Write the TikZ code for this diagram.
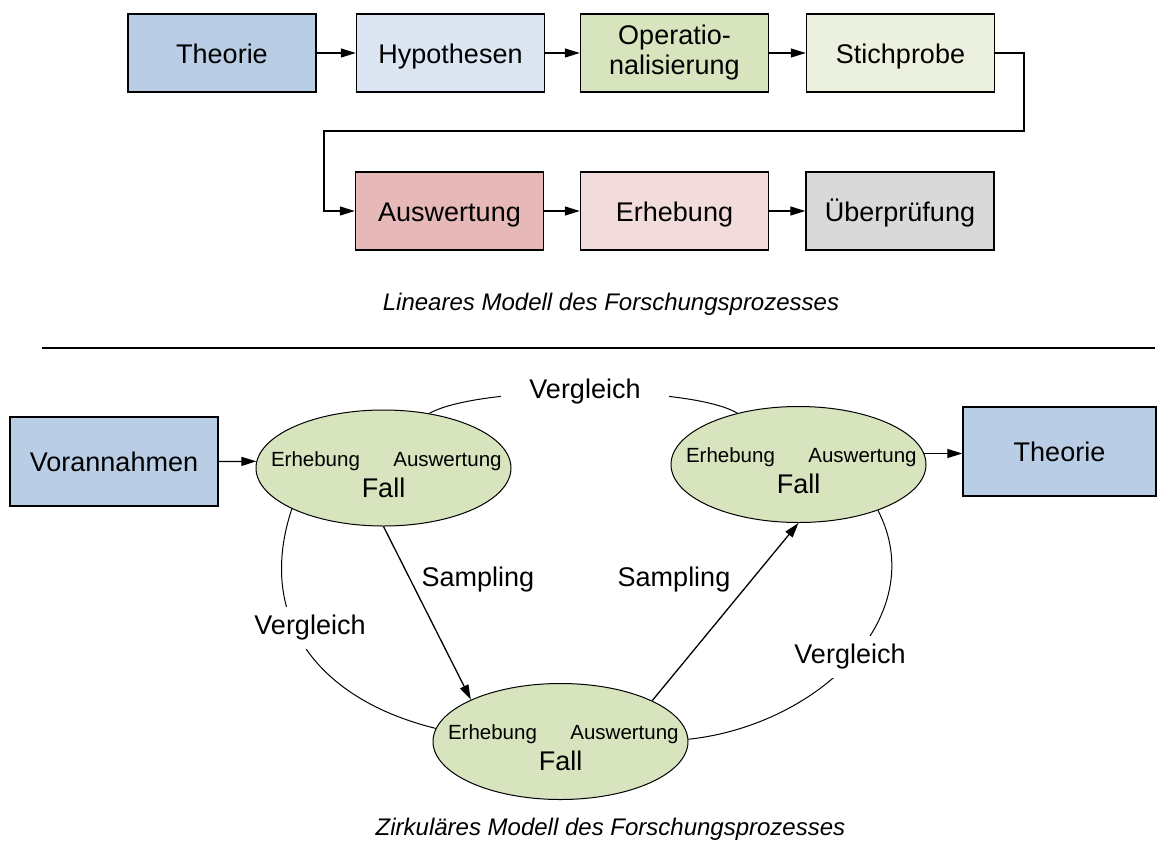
\documentclass[tikz,border=0pt]{standalone}
\usepackage{fontspec}
\setmainfont{Liberation Sans}
\usetikzlibrary{shapes.geometric,arrows.meta,calc}
\definecolor{cBlue}{HTML}{B9CDE5}
\definecolor{cBlueL}{HTML}{DCE6F2}
\definecolor{cOlive}{HTML}{D7E4BD}
\definecolor{cOliveL}{HTML}{EBF1DE}
\definecolor{cRed}{HTML}{E6B9B8}
\definecolor{cRedL}{HTML}{F2DCDB}
\definecolor{cGray}{HTML}{D9D9D9}
\begin{document}
\begin{tikzpicture}[x=1pt,y=-1pt,
  box/.style={draw, line width=1.4pt, minimum width=188pt, minimum height=78pt, inner sep=0pt, font=\fontsize{27}{30}\selectfont, align=center},
  oneline/.style={text height=20pt, text depth=0pt},
  case/.style={ellipse, draw, line width=1pt, fill=cOlive, minimum width=255pt, minimum height=116pt, inner sep=0pt},
  small/.style={font=\fontsize{20.5}{24}\selectfont, anchor=base, inner sep=0pt},
  big/.style={font=\fontsize{27}{30}\selectfont, anchor=base, inner sep=0pt},
  lbl/.style={font=\fontsize{27}{30}\selectfont, fill=white, inner sep=8pt},
  plain/.style={font=\fontsize{27}{30}\selectfont, inner sep=0pt},
  arr/.style={line width=1.3pt, -{Triangle[length=15pt,width=9pt]}},
  link/.style={line width=1pt},
  capt/.style={font=\itshape\fontsize{24}{28}\selectfont, anchor=base, inner sep=0pt}
]
\path[use as bounding box] (0,0) rectangle (1170,841);

% ---------- linear model ----------
\node[box, oneline, fill=cBlue]   (t1) at (222,53)    {Theorie};
\node[box, oneline, fill=cBlueL]  (hy) at (450.5,53)  {Hypothesen};
\node[box, fill=cOlive]           (op) at (674.5,53)  {Operatio-\\nalisierung};
\node[box, oneline, fill=cOliveL] (st) at (900.5,53)  {Stichprobe};
\node[box, oneline, fill=cRed]    (au) at (449.5,211) {Auswertung};
\node[box, oneline, fill=cRedL]   (er) at (674.5,211) {Erhebung};
\node[box, oneline, fill=cGray]   (ue) at (900,211)   {Überprüfung};

\draw[arr] (t1) -- (hy);
\draw[arr] (hy) -- (op);
\draw[arr] (op) -- (st);
\coordinate (k1) at (1024,131);
\coordinate (k2) at (324,131);
\draw[arr] (st.east) -| (k1) -- (k2) |- (au.west);
\draw[arr] (au) -- (er);
\draw[arr] (er) -- (ue);

\node[capt] (c1) at (611,310) {Lineares Modell des Forschungsprozesses};

\coordinate (s1) at (42,348);
\coordinate (s2) at (1155,348);
\draw[line width=1.2pt] (s1) -- (s2);

% ---------- circular model ----------
\node[box, oneline, fill=cBlue, minimum width=208pt, minimum height=89pt] (vo) at (114,461.5) {Vorannahmen};
\node[box, oneline, fill=cBlue, minimum width=193pt, minimum height=89pt] (t2) at (1059.5,451.5) {Theorie};

\node[case] (e1) at (383.5,468) {};
\node[case] (e2) at (798.5,464.5) {};
\node[case] (e3) at (560.5,741.5) {};

\foreach \e in {e1,e2,e3}{
  \node[small] (\e-er) at ($(\e)+(-68,-2)$) {Erhebung};
  \node[small] (\e-au) at ($(\e)+(64,-2)$) {Auswertung};
  \node[big]   (\e-fa) at ($(\e)+(0,29)$) {Fall};
}

\draw[arr] (vo.east) -- (e1.177.3);
\draw[arr] (e2.5.3) -- (e2.5.3 -| t2.west);
\draw[arr] (e1.south) -- (e3.155.4);
\draw[arr] (e3.24.4) -- (e2.south);

\draw[link] (e1.50.3) .. controls (480,385) and (690,385) .. (e2.140.1);
\draw[link] (e1.204.9) .. controls (255,620) and (320,700) .. (e3.174.3);
\draw[link] (e2.330.2) .. controls (932,615) and (820,725) .. (e3.1);

\node[lbl, inner xsep=28pt] (v1) at (585,392) {Vergleich};
\node[lbl] (v2) at (310,628) {Vergleich};
\node[lbl] (v3) at (850,657) {Vergleich};
\node[plain] (sa1) at (478,580) {Sampling};
\node[plain] (sa2) at (674,580) {Sampling};

\node[capt] (c2) at (610.5,835) {Zirkuläres Modell des Forschungsprozesses};
\end{tikzpicture}
\end{document}
